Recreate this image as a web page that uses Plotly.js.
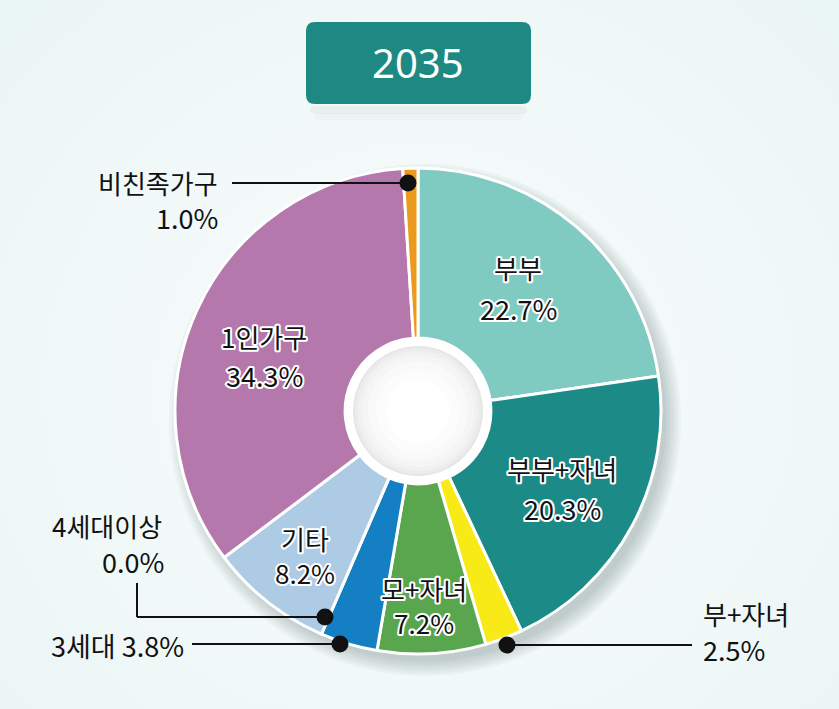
<!DOCTYPE html>
<html>
<head>
<meta charset="utf-8">
<script src="https://cdn.plot.ly/plotly-3.0.1.min.js"></script>
<style>
html, body { margin:0; padding:0; }
body {
  width:839px; height:709px; overflow:hidden;
  background: radial-gradient(ellipse at 50% 55%, #fbfdfd 0%, #f3f9f9 45%, #eaf5f5 100%);
}
#chart { width:839px; height:709px; }
</style>
</head>
<body>
<div id="chart"></div>
<script>
// ---- data ----
const title = '2035';
const categories = ['부부', '부부+자녀', '부+자녀', '모+자녀', '3세대', '4세대이상', '기타', '1인가구', '비친족가구'];
const values = [22.7, 20.3, 2.5, 7.2, 3.8, 0.0, 8.2, 34.3, 1.0];
const colors = ['#80cbc1', '#1c8a86', '#f7ea17', '#5aa64f', '#1480c3', '#8a6fb0', '#aecbe6', '#b478ad', '#ec9a1d'];

// ---- geometry (pixels) ----
const W = 839, H = 709;
const CX = 418, CY = 411, R = 243;
const px = x => x / W;
const py = y => 1 - y / H;
const fmt = v => v.toFixed(1) + '%';

const pieTrace = {
  type: 'pie',
  labels: categories,
  values: values,
  sort: false,
  direction: 'clockwise',
  rotation: 0,
  hole: 0.30,
  marker: { colors: colors, line: { color: '#ffffff', width: 3 } },
  textinfo: 'none',
  hoverinfo: 'label+percent',
  showlegend: false,
  domain: { x: [px(CX - R), px(CX + R)], y: [py(CY + R), py(CY - R)] }
};

const shapes = [];
function circ(cx, cy, r, fill, layer, line) {
  shapes.push({ type: 'circle', xref: 'paper', yref: 'paper',
    x0: px(cx - r), x1: px(cx + r), y0: py(cy + r), y1: py(cy - r),
    fillcolor: fill, line: line || { width: 0 }, layer: layer });
}
// soft drop shadow behind the pie (offset to lower right)
for (let k = 6; k >= 0; k--) {
  circ(CX + 7, CY + 9, R - 2 + k * 2.5, 'rgba(60,70,70,0.04)', 'below');
}
// hole shading (white ring + gray radial fade)
circ(CX, CY, 72, '#ffffff', 'above');
circ(CX, CY, 65, '#e6e6e6', 'above');
circ(CX, CY, 63, '#ececec', 'above');
circ(CX, CY, 60, '#f1f1f1', 'above');
circ(CX, CY, 56, '#f5f5f5', 'above');
circ(CX, CY, 50, '#f9f9f9', 'above');
circ(CX, CY, 42, '#fcfcfc', 'above');
circ(CX, CY, 32, '#ffffff', 'above');

// title box
function roundRect(x0, y0, x1, y1, r) {
  return `M ${x0 + r} ${y0} L ${x1 - r} ${y0} Q ${x1} ${y0} ${x1} ${y0 + r} L ${x1} ${y1 - r} Q ${x1} ${y1} ${x1 - r} ${y1} L ${x0 + r} ${y1} Q ${x0} ${y1} ${x0} ${y1 - r} L ${x0} ${y0 + r} Q ${x0} ${y0} ${x0 + r} ${y0} Z`;
}
function pathPx(d) {
  return d.replace(/(-?\d+(\.\d+)?) (-?\d+(\.\d+)?)/g, (m, a, _b, c) => `${px(+a)} ${py(+c)}`);
}
shapes.push({ type: 'path', xref: 'paper', yref: 'paper', path: pathPx(roundRect(310, 106, 527, 114, 4)),
  fillcolor: 'rgba(0,0,0,0.035)', line: { width: 0 }, layer: 'below' });
shapes.push({ type: 'path', xref: 'paper', yref: 'paper', path: pathPx(roundRect(314, 113, 523, 120, 4)),
  fillcolor: 'rgba(0,0,0,0.018)', line: { width: 0 }, layer: 'below' });
shapes.push({ type: 'path', xref: 'paper', yref: 'paper', path: pathPx(roundRect(306, 22, 531, 104, 9)),
  fillcolor: '#1e8883', line: { width: 0 }, layer: 'below' });

// leader lines
function seg(x0, y0, x1, y1) {
  shapes.push({ type: 'line', xref: 'paper', yref: 'paper', x0: px(x0), y0: py(y0), x1: px(x1), y1: py(y1),
    line: { color: '#111111', width: 2 }, layer: 'above' });
}
seg(232, 183, 408, 183);             // 비친족가구
seg(137, 583, 137, 617); seg(137, 617, 325, 617); // 4세대이상
seg(192, 644, 340, 644);             // 3세대
seg(507, 645, 692, 645);             // 부+자녀
[[408, 183], [325, 617], [340, 644], [507, 645]].forEach(p => circ(p[0], p[1], 8.5, '#111111', 'above'));

// labels
const FONT = '"Noto Sans CJK KR", "Noto Sans", sans-serif';
const annotations = [];
const haloIdx = [];
function ann(text, x, y, xanchor, size, color, fam) {
  annotations.push({ text: text, xref: 'paper', yref: 'paper', x: px(x), y: py(y),
    xanchor: xanchor, yanchor: 'middle', showarrow: false,
    font: { family: fam || FONT, size: size, color: color || '#111111' } });
  return annotations.length - 1;
}
function inside(i, x, y1, y2) {
  haloIdx.push(ann(categories[i], x, y1, 'center', 26));
  haloIdx.push(ann(fmt(values[i]), x, y2, 'center', 27));
}
function insideTight(i, x, yMid) {
  // two lines in one text block (tight line spacing as in the reference)
  haloIdx.push(ann(categories[i] + '<br>' + fmt(values[i]), x, yMid, 'center', 26));
}
inside(0, 518, 267, 308);
inside(1, 562, 468, 508);
insideTight(3, 424, 605);
insideTight(6, 305, 555);
inside(7, 264, 337, 376);

// outside labels
ann(categories[8], 220, 182, 'right', 26);
ann(fmt(values[8]), 220, 218, 'right', 27);
ann(categories[5], 164, 525, 'right', 26);
ann(fmt(values[5]), 166, 561, 'right', 27);
ann(categories[4] + ' ' + fmt(values[4]), 186, 645, 'right', 27);
ann(categories[2], 701, 613, 'left', 26);
ann(fmt(values[2]), 701, 649, 'left', 27);

// title text
ann(title, 418, 63, 'center', 40, '#ffffff', '"Noto Sans", "Open Sans", sans-serif');

const layout = {
  width: W, height: H,
  margin: { l: 0, r: 0, t: 0, b: 0 },
  paper_bgcolor: 'rgba(0,0,0,0)',
  plot_bgcolor: 'rgba(0,0,0,0)',
  showlegend: false,
  shapes: shapes,
  annotations: annotations
};

Plotly.newPlot('chart', [pieTrace], layout, { displayModeBar: false, staticPlot: true }).then(gd => {
  // white halo around the in-slice labels
  haloIdx.forEach(i => {
    gd.querySelectorAll(`.annotation[data-index="${i}"] text`).forEach(t => {
      t.style.stroke = '#ffffff';
      t.style.strokeWidth = '4px';
      t.style.strokeLinejoin = 'round';
      t.style.paintOrder = 'stroke fill';
    });
  });
});
</script>
</body>
</html>
